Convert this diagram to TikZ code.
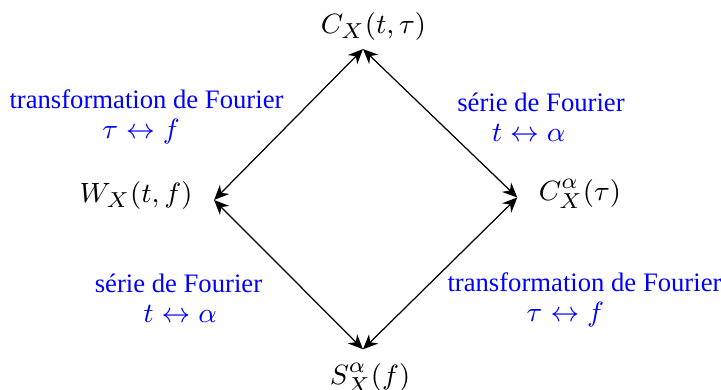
\documentclass[tikz,border=0pt]{standalone}
\usepackage{fontspec}
\setmainfont{Liberation Serif}
\usetikzlibrary{arrows.meta}

\begin{document}
\begin{tikzpicture}[
  x=0.3226pt, y=-0.3226pt,
  fn/.style={inner sep=0pt, font=\fontsize{9.4pt}{11pt}\selectfont},
  lbl/.style={align=center, text=blue, anchor=base, font=\fontsize{8.6pt}{9.7pt}\selectfont},
  dual/.style={{Stealth[length=4.8pt,width=4.2pt]}-{Stealth[length=4.8pt,width=4.2pt]}, line width=0.4pt}
]
  \useasboundingbox (0,0) rectangle (721,390);

  % the four functions
  \node[fn] (cx) at (373.5,26.5) {$C_X(t,\tau)$};
  \node[fn] (wx) at (136,195.5) {$W_X(t,f)$};
  \node[fn] (ca) at (580,193.5) {$C^\alpha_X(\tau)$};
  \node[fn] (sa) at (370,377.5) {$S^\alpha_X(f)$};

  % transforms
  \draw[dual] ([shift={(21,4.5)}]wx.east) -- ([shift={(-10.5,8)}]cx.south);
  \draw[dual] ([shift={(-10.5,8)}]cx.south) -- ([shift={(-21,4)}]ca.west);
  \draw[dual] ([shift={(21,4.5)}]wx.east) -- ([shift={(-7,-13)}]sa.north);
  \draw[dual] ([shift={(-21,4)}]ca.west) -- ([shift={(-7,-13)}]sa.north);

  % labels
  \node[lbl] (tl) at (146.5,139) {transformation de Fourier\\$\tau\leftrightarrow f$\hspace*{3.5pt}};
  \node[lbl] (tr) at (541,141.5) {série de Fourier\\$t\leftrightarrow\alpha$\hspace*{8pt}};
  \node[lbl] (bl) at (178.5,323) {série de Fourier\\\hspace*{1pt}$t\leftrightarrow\alpha$};
  \node[lbl] (br) at (584.5,322) {transformation de Fourier\\$\tau\leftrightarrow f$\hspace*{12.3pt}};
\end{tikzpicture}
\end{document}
